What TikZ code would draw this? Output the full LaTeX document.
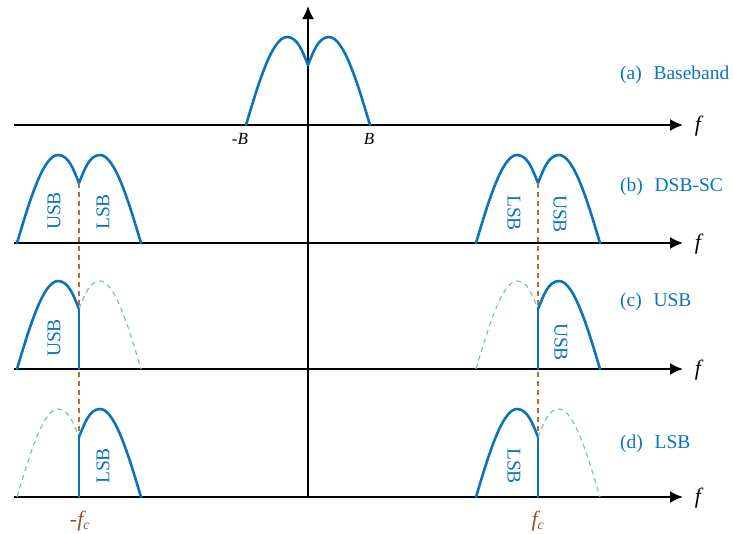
\documentclass[tikz,border=0pt]{standalone}
\usepackage{fontspec}
\setmainfont{Liberation Serif}
\usetikzlibrary{arrows.meta}
\definecolor{sblue}{RGB}{10,115,190}
\definecolor{lblue}{RGB}{120,190,212}
\definecolor{brn}{RGB}{190,105,50}
\definecolor{dbrn}{RGB}{150,80,30}
\tikzset{
  axis/.style={line width=1.8pt,-{Latex[length=13pt,width=12pt]}},
  band/.style={draw=sblue,line width=2.6pt,line cap=round},
  ghost/.style={draw=lblue,line width=1.2pt,dash pattern=on 5pt off 4pt},
  cdash/.style={draw=brn,line width=1.3pt,dash pattern=on 5pt off 4pt},
  lbl/.style={text=sblue,font=\fontsize{19.5}{22}\selectfont,anchor=west,inner sep=0pt},
  sbl/.style={text=sblue,font=\fontsize{19.5}{22}\selectfont,inner sep=0pt},
  flbl/.style={font=\fontsize{22}{24}\selectfont\itshape,inner sep=0pt},
  lefthalf/.pic={\path[pic actions] (-62,0) .. controls (-50,-40) and (-36,-88) .. (-21,-88) .. controls (-10,-88) and (-5,-72) .. (0,-60);},
  righthalf/.pic={\path[pic actions] (0,-60) .. controls (5,-72) and (10,-88) .. (21,-88) .. controls (36,-88) and (50,-40) .. (62,0);},
}
\begin{document}
\begin{tikzpicture}[x=1pt,y=-1pt]
\useasboundingbox (0,0) rectangle (733,533);
% axes
\foreach \n/\y in {a/125,b/243,c/369,d/497}{
  \coordinate (\n0) at (14,\y);
  \coordinate (\n1) at (683,\y);
  \draw[axis] (\n0) -- (\n1);
  \node[flbl] (f\n) at (698,\y+1) {f};
}
\coordinate (vb) at (308,497);
\coordinate (vt) at (308,6);
\draw[axis] (vb) -- (vt);

% (a) baseband
\pic[band] at (308,125) {lefthalf};
\pic[band] at (308,125) {righthalf};
\node[font=\fontsize{17}{19}\selectfont\itshape,inner sep=0pt] (mB) at (240,139) {-B};
\node[font=\fontsize{17}{19}\selectfont\itshape,inner sep=0pt] (pB) at (369,139) {B};

% (b) DSB-SC
\pic[band] at (79,243) {lefthalf};
\pic[band] at (79,243) {righthalf};
\pic[band] at (538,243) {lefthalf};
\pic[band] at (538,243) {righthalf};
\node[sbl,rotate=90] (b1) at (54,211) {USB};
\node[sbl,rotate=90] (b2) at (103,212) {LSB};
\node[sbl,rotate=-90] (b3) at (514,213) {LSB};
\node[sbl,rotate=-90] (b4) at (560,214) {USB};

% brown dashed carrier lines
\coordinate (cl1) at (79,183);
\coordinate (cl2) at (79,437);
\coordinate (cr1) at (538,183);
\coordinate (cr2) at (538,437);
\draw[cdash] (cl1) -- (cl2);
\draw[cdash] (cr1) -- (cr2);

% (c) USB
\pic[band] at (79,369) {lefthalf};
\pic[ghost] at (79,369) {righthalf};
\pic[ghost] at (538,369) {lefthalf};
\pic[band] at (538,369) {righthalf};
\draw[band] (79,369) -- (79,309);
\draw[band] (538,369) -- (538,309);
\node[sbl,rotate=90] (c1) at (54,338) {USB};
\node[sbl,rotate=-90] (c2) at (561,342) {USB};

% (d) LSB
\pic[ghost] at (79,497) {lefthalf};
\pic[band] at (79,497) {righthalf};
\pic[band] at (538,497) {lefthalf};
\pic[ghost] at (538,497) {righthalf};
\draw[band] (79,497) -- (79,437);
\draw[band] (538,497) -- (538,437);
\node[sbl,rotate=90] (d1) at (103,466) {LSB};
\node[sbl,rotate=-90] (d2) at (514,466) {LSB};

% carrier labels
\node[flbl,text=dbrn] (nfc) at (80,521) {-f\textsubscript{\fontsize{14}{16}\selectfont c}};
\node[flbl,text=dbrn] (pfc) at (538,521) {f\textsubscript{\fontsize{14}{16}\selectfont c}};

% right-hand labels
\node[lbl] (la) at (620,75) {(a)\hspace{0.6em}Baseband};
\node[lbl] (lb) at (620,187) {(b)\hspace{0.6em}DSB-SC};
\node[lbl] (lc) at (620,302) {(c)\hspace{0.6em}USB};
\node[lbl] (ld) at (620,444) {(d)\hspace{0.6em}LSB};
\end{tikzpicture}
\end{document}
